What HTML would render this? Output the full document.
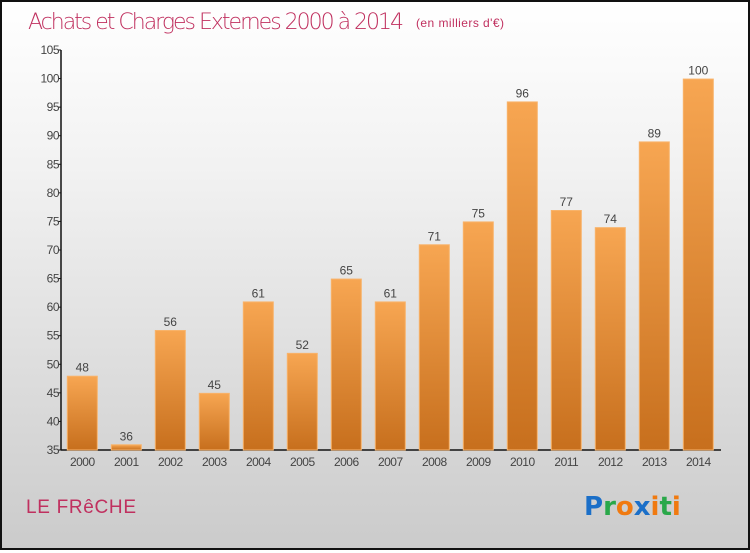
<!DOCTYPE html>
<html><head><meta charset="utf-8">
<style>
html,body{margin:0;padding:0}
body{width:750px;height:550px;overflow:hidden;font-family:"Liberation Sans",sans-serif}
#wrap{position:absolute;left:0;top:0;width:746px;height:546px;border:2px solid #111;background:linear-gradient(#ffffff,#f2f2f2 30%,#cbcbcb)}
</style></head><body>
<div id="wrap">
<svg id="chart" width="746" height="546" xmlns="http://www.w3.org/2000/svg">
<defs>
<linearGradient id="bg" x1="0" y1="0" x2="0" y2="1">
<stop offset="0" stop-color="#f7a652"/><stop offset="1" stop-color="#c76f1d"/>
</linearGradient>
</defs>
<text x="26" y="27" font-size="22" fill="#c0305f" style="font-family:'DejaVu Sans',sans-serif;font-weight:200" textLength="376">Achats et Charges Externes 2000 à 2014</text>
<text x="414" y="25" font-size="12" fill="#c0305f" textLength="88">(en milliers d'€)</text>
<text x="24" y="511" font-size="19" fill="#c0305f" textLength="110">LE FRêCHE</text>
<g font-size="26" font-weight="bold" font-family="'DejaVu Sans',sans-serif">
<text x="582" y="513"><tspan fill="#1b6fc8">P</tspan><tspan fill="#2aa84a">r</tspan><tspan fill="#f07a10">o</tspan><tspan fill="#1b6fc8">x</tspan><tspan fill="#f07a10">i</tspan><tspan fill="#2aa84a">t</tspan><tspan fill="#f07a10">i</tspan></text>
</g>
<g id="axes"></g><g id="bars"></g>
</svg>
</div>
<script>
const categories=["2000","2001","2002","2003","2004","2005","2006","2007","2008","2009","2010","2011","2012","2013","2014"];
const values=[48,36,56,45,61,52,65,61,71,75,96,77,74,89,100];
const yTicks=[35,40,45,50,55,60,65,70,75,80,85,90,95,100,105];
const NS="http://www.w3.org/2000/svg";
const ox=-2,oy=-2;
const y=v=>450+oy-(v-35)*400/70;
const xc=i=>82.3+ox+i*44;
const axes=document.getElementById('axes'),bars=document.getElementById('bars');
function el(t,a,p){const e=document.createElementNS(NS,t);for(const k in a)e.setAttribute(k,a[k]);p.appendChild(e);return e;}
const yl=el('line',{x1:61+ox,y1:y(105),x2:61+ox,y2:y(35),stroke:'#111','stroke-width':1.5},axes);


const xl=el('line',{x1:61+ox,y1:y(35),x2:721+ox,y2:y(35),stroke:'#111','stroke-width':1.5},axes);


yTicks.forEach(v=>{
  el('line',{x1:58+ox,y1:y(v),x2:61+ox,y2:y(v),stroke:'#111'},axes);
  const t=el('text',{x:59+ox,y:y(v)+4,'text-anchor':'end','font-size':12,fill:'#444','letter-spacing':'-0.5'},axes);
  t.textContent=v;
  
  
});
categories.forEach((c,i)=>{
  const v=values[i];
  const r=el('rect',{x:xc(i)-15,y:y(v)+0.5,width:30,height:y(35)-y(v)-0.5,fill:'url(#bg)',stroke:'#f8b36a','stroke-width':1},bars);
  
  
  const vl=el('text',{x:xc(i),y:y(v)-4,'text-anchor':'middle','font-size':12,fill:'#444'},bars);
  vl.textContent=v;
  
  
  const xlab=el('text',{x:xc(i),y:466+oy,'text-anchor':'middle','font-size':12,fill:'#444','letter-spacing':'-0.5'},bars);
  xlab.textContent=c;
  
  
});
</script>
</body></html>
